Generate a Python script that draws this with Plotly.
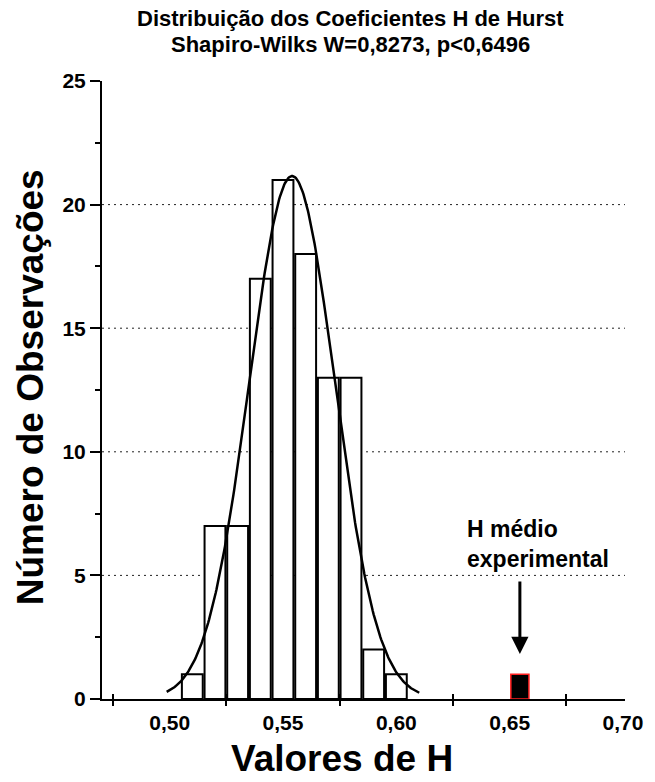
import math
import numpy as np
import plotly.graph_objects as go

# ---------------- data ----------------
bin_centers = [0.51, 0.52, 0.53, 0.54, 0.55, 0.56, 0.57, 0.58, 0.59, 0.60]
counts = [1, 7, 7, 17, 21, 18, 13, 13, 2, 1]
bin_width = 0.01
h_exp = [0.6545]
h_exp_count = [1]
curve_range = [0.4987, 0.6101]

x_label_vals = [0.50, 0.55, 0.60, 0.65, 0.70]
x_label_text = ["0,50", "0,55", "0,60", "0,65", "0,70"]
x_tick_vals = [0.475, 0.525, 0.575, 0.625, 0.675]
y_tick_vals = [0, 5, 10, 15, 20, 25]
y_tick_text = ["0", "5", "10", "15", "20", "25"]
y_minor_vals = [2.5, 7.5, 12.5, 17.5, 22.5]
grid_vals = [5, 10, 15, 20]

title_1 = "Distribuição dos Coeficientes H de Hurst"
title_2 = "Shapiro-Wilks W=0,8273, p<0,6496"
x_title = "Valores de H"
y_title = "Número de Observações"
note = "H médio<br>experimental"

# ---------------- normal fit of the histogram ----------------
n = sum(counts)
mean = sum(c * x for c, x in zip(counts, bin_centers)) / n
sd = math.sqrt(sum(c * (x - mean) ** 2 for c, x in zip(counts, bin_centers)) / (n - 1))
xc = np.linspace(curve_range[0], curve_range[1], 300)
yc = n * bin_width / (sd * math.sqrt(2 * math.pi)) * np.exp(-0.5 * ((xc - mean) / sd) ** 2)

FONT = "Liberation Sans, Arial, sans-serif"

fig = go.Figure()
fig.add_trace(go.Bar(
    x=bin_centers, y=counts, width=0.0092,
    marker=dict(color="white", line=dict(color="black", width=2)),
    hoverinfo="skip",
))
fig.add_trace(go.Bar(
    x=h_exp, y=h_exp_count, width=0.0080, xaxis="x2",
    marker=dict(color="black", line=dict(color="#ff2020", width=1.5)),
    hoverinfo="skip",
))
fig.add_trace(go.Scatter(
    x=xc, y=yc, mode="lines", line=dict(color="black", width=2.5),
    hoverinfo="skip",
))

xrange = [0.47016, 0.70087]

fig.update_layout(
    width=655, height=782,
    margin=dict(l=102, r=20, t=81, b=83),
    paper_bgcolor="white", plot_bgcolor="white",
    showlegend=False, barmode="overlay",
    font=dict(family=FONT, color="black"),
    xaxis=dict(
        range=xrange, tickvals=x_label_vals, ticktext=x_label_text,
        ticks="", showline=True, linewidth=2, linecolor="black",
        showgrid=False, zeroline=False,
        tickfont=dict(family=FONT, size=21, weight="bold", color="black"),
        ticklabelstandoff=4,
        minor=dict(tickvals=x_tick_vals, ticks="outside", ticklen=5,
                   tickwidth=2, tickcolor="black", showgrid=False),
    ),
    xaxis2=dict(
        range=xrange, overlaying="x", anchor="y", side="bottom",
        tickvals=x_tick_vals, ticks="inside", ticklen=5, tickwidth=2,
        tickcolor="black", showticklabels=False, showline=False,
        showgrid=False, zeroline=False,
    ),
    yaxis=dict(
        range=[0, 25], tickvals=y_tick_vals, ticktext=y_tick_text,
        ticks="outside", ticklen=10, tickwidth=2, tickcolor="black",
        showline=True, linewidth=2, linecolor="black",
        showgrid=False, zeroline=False,
        tickfont=dict(family=FONT, size=21, weight="bold", color="black"),
        minor=dict(tickvals=y_minor_vals, ticks="outside", ticklen=5,
                   tickwidth=2, tickcolor="black", showgrid=False),
    ),
)

for v in grid_vals:
    fig.add_shape(type="line", xref="paper", x0=0, x1=1, yref="y", y0=v, y1=v,
                  line=dict(color="#222222", width=1, dash="2px,4px"), layer="below")

fig.add_annotation(text=title_1, xref="paper", yref="paper", x=0.475, y=1.1008,
                   xanchor="center", yanchor="middle", showarrow=False,
                   font=dict(family=FONT, size=22, weight="bold", color="black"))
fig.add_annotation(text=title_2, xref="paper", yref="paper", x=0.475, y=1.059,
                   xanchor="center", yanchor="middle", showarrow=False,
                   font=dict(family=FONT, size=22, weight="bold", color="black"))
fig.add_annotation(text=x_title, xref="paper", yref="paper", x=0.458, y=-0.096,
                   xanchor="center", yanchor="middle", showarrow=False,
                   font=dict(family=FONT, size=37, weight="bold", color="black"))
fig.add_annotation(text=y_title, xref="paper", yref="paper", x=-0.135, y=0.505,
                   xanchor="center", yanchor="middle", showarrow=False, textangle=-90,
                   font=dict(family=FONT, size=37, weight="bold", color="black"))
fig.add_annotation(text=note, xref="paper", yref="paper", x=0.6936, y=0.2513,
                   xanchor="left", yanchor="middle", align="left", showarrow=False,
                   font=dict(family=FONT, size=23, weight="bold", color="black"))
fig.add_annotation(text="", x=h_exp[0], y=1.82, ax=h_exp[0], ay=4.81,
                   xref="x", yref="y", axref="x", ayref="y",
                   showarrow=True, arrowhead=2, arrowsize=1.15, arrowwidth=3,
                   arrowcolor="black", standoff=0, startstandoff=0)

fig.write_html("out.html")
